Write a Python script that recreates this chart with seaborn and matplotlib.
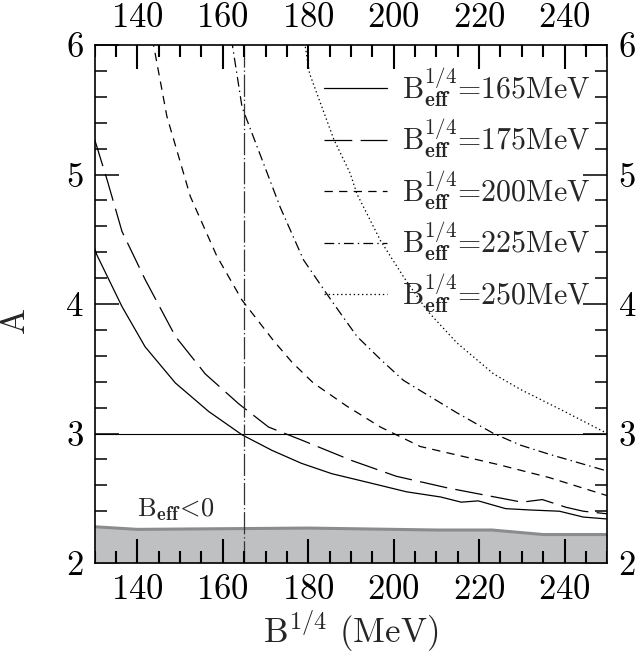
import numpy as np
import pandas as pd
import matplotlib
matplotlib.use("Agg")
import matplotlib.pyplot as plt
import seaborn as sns

# curves A(B^{1/4}) for several B_eff^{1/4}
x_165 = [130, 130.5, 136.4, 141.8, 148.9, 156.7, 164.5, 171.5, 178.4, 185.5, 194.3, 203, 211, 215.8, 219.8, 226.2, 231.7, 238.8, 244.4, 250]
y_165 = [4.43, 4.38, 3.98, 3.67, 3.39, 3.17, 2.99, 2.87, 2.77, 2.69, 2.62, 2.55, 2.51, 2.47, 2.48, 2.42, 2.41, 2.40, 2.355, 2.34]

x_175 = [130, 132.9, 136.4, 141.8, 148.9, 155.9, 163.7, 170.7, 178.4, 190.3, 200.6, 212.6, 220.5, 230, 234.8, 240.4, 244.4, 250]
y_175 = [5.27, 4.96, 4.56, 4.19, 3.75, 3.46, 3.23, 3.05, 2.95, 2.79, 2.67, 2.58, 2.53, 2.47, 2.49, 2.43, 2.40, 2.38]

x_200 = [143.5, 146.9, 152.4, 155.9, 158.6, 164.5, 171.8, 176.2, 181.2, 189.1, 196.9, 206.2, 224.5, 236.4, 250]
y_200 = [6.05, 5.45, 4.83, 4.57, 4.37, 4.03, 3.72, 3.55, 3.39, 3.21, 3.05, 2.90, 2.76, 2.66, 2.52]

x_225 = [162.0, 164.5, 170.4, 173.4, 178.9, 184.3, 187.5, 191.4, 197, 202.3, 207.8, 214.8, 223.4, 229.7, 236.4, 250]
y_225 = [6.05, 5.52, 5.01, 4.75, 4.34, 4.08, 3.93, 3.75, 3.57, 3.41, 3.30, 3.16, 3.0, 2.91, 2.84, 2.71]

x_250 = [179.0, 180.3, 186, 189.8, 191.4, 196.9, 202.3, 207.8, 214.8, 223.4, 229.7, 240, 250]
y_250 = [6.05, 5.78, 5.27, 5.01, 4.85, 4.49, 4.21, 3.95, 3.70, 3.46, 3.34, 3.17, 3.0]

# B_eff < 0 boundary
x_neg = [130, 140, 160, 180, 200, 210, 223, 235, 250]
y_neg = [2.28, 2.26, 2.265, 2.27, 2.26, 2.255, 2.255, 2.22, 2.22]

x_major = [140, 160, 180, 200, 220, 240]
y_major = [2, 3, 4, 5, 6]

labels = [r"B$^{1/4}_{\mathbf{eff}}$=165MeV", r"B$^{1/4}_{\mathbf{eff}}$=175MeV",
          r"B$^{1/4}_{\mathbf{eff}}$=200MeV", r"B$^{1/4}_{\mathbf{eff}}$=225MeV",
          r"B$^{1/4}_{\mathbf{eff}}$=250MeV"]
xs = [x_165, x_175, x_200, x_225, x_250]
ys = [y_165, y_175, y_200, y_225, y_250]

frames = []
for lab, xv, yv in zip(labels, xs, ys):
    frames.append(pd.DataFrame({"B": xv, "A": yv, "curve": lab}))
df = pd.concat(frames, ignore_index=True)

sns.set_style("ticks", {"xtick.direction": "in", "ytick.direction": "in",
                        "xtick.top": True, "xtick.bottom": True,
                        "ytick.left": True, "ytick.right": True,
                        "xtick.color": "black", "ytick.color": "black",
                        "axes.edgecolor": "black"})
plt.rcParams["font.family"] = ["cmr10", "DejaVu Serif"]
plt.rcParams["mathtext.fontset"] = "cm"
plt.rcParams["axes.formatter.use_mathtext"] = True
plt.rcParams.update({
    "xtick.labelsize": 25, "ytick.labelsize": 25,
    "xtick.major.pad": 8, "ytick.major.pad": 8,
})

lw = 0.9
# dash patterns in points, divided by lw because matplotlib scales them
dash_map = {labels[0]: "",
            labels[1]: tuple(d / lw for d in (20, 6)),
            labels[2]: tuple(d / lw for d in (6, 4.5)),
            labels[3]: tuple(d / lw for d in (7, 3, 1, 3)),
            labels[4]: tuple(d / lw for d in (1, 2))}

fig = plt.figure(figsize=(6.44, 6.62), dpi=100)
ax = fig.add_axes([0.147, 0.1495, 0.796, 0.7825])

ax.fill_between(x_neg, 2.0, y_neg, color="#bfc0c2", lw=0, zorder=1)
ax.plot(x_neg, y_neg, color="#8c8c8c", lw=2.2, zorder=2)

sns.lineplot(data=df, x="B", y="A", hue="curve", style="curve", hue_order=labels,
             style_order=labels, palette=["black"] * 5, dashes=dash_map,
             lw=lw, sort=False, estimator=None, legend=False, ax=ax)

ax.axhline(3.0, color="black", lw=0.8)
ax.axvline(165, color="#333333", lw=0.9, dashes=(16 / 0.9, 2 / 0.9, 1 / 0.9, 2 / 0.9))

ax.text(140, 2.36, r"B$_{\mathbf{eff}}$$\!<\!$0", fontsize=19)

handles = ax.get_lines()[1:6]
leg = ax.legend(handles, labels, loc="upper right", bbox_to_anchor=(0.995, 0.99),
                frameon=False, fontsize=21.5, handlelength=2.1, labelspacing=0.27,
                handletextpad=0.5, borderaxespad=0.1)

ax.set_xlim(130, 250)
ax.set_ylim(2, 6)
ax.set_xticks(x_major)
ax.set_xticks(np.arange(130, 251, 5), minor=True)
ax.set_yticks(y_major)
ax.set_yticks(np.arange(2, 6.01, 0.2), minor=True)
# x tick marks drawn as short lines below
ax.tick_params(axis="x", which="both", top=True, bottom=True,
               labeltop=True, labelbottom=True, length=0)
ax.tick_params(axis="y", which="both", direction="in", left=True, right=True,
               labelleft=True, labelright=True, color="black", width=1.1)
ax.tick_params(axis="y", which="major", length=17)
ax.tick_params(axis="y", which="minor", length=8.5)

xtr = ax.get_xaxis_transform()
x_minor = [v for v in ax.get_xticks(minor=True) if v not in x_major]
maj_len, min_len = 0.0455, 0.0225
for lo, hi in [(0, maj_len), (1 - maj_len, 1)]:
    ax.vlines(ax.get_xticks(), lo, hi, transform=xtr, color="black", lw=1.5, zorder=2.6)
for lo, hi in [(0, min_len), (1 - min_len, 1)]:
    ax.vlines(x_minor, lo, hi, transform=xtr, color="black", lw=1.5, zorder=2.6)

for s in ax.spines.values():
    s.set_linewidth(1.2)

ax.set_xlabel(r"B$^{1/4}$ (MeV)", fontsize=25, labelpad=2)
ax.set_ylabel("A", fontsize=25)
ax.yaxis.set_label_coords(-0.125, 0.47)

fig.savefig("out.png", dpi=100)
